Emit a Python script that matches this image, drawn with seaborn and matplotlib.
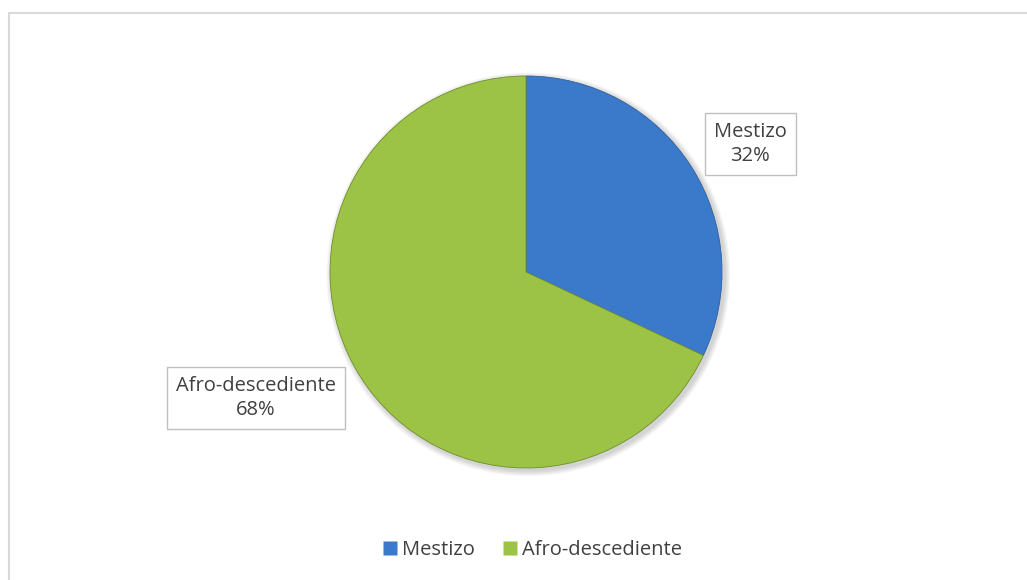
import matplotlib
matplotlib.use('Agg')
import matplotlib.pyplot as plt
import seaborn as sns
from matplotlib.patches import Rectangle, Circle

# Data
groups = ['Mestizo', 'Afro-descediente']
shares = [32, 68]
colors = ['#3b7acb', '#9cc246']

sns.set_theme(style='white')
plt.rcParams['font.family'] = ['Open Sans', 'DejaVu Sans']

W, H = 1027, 580
fig = plt.figure(figsize=(W / 100, H / 100), dpi=100)

# light gray chart border (runs off the right and bottom edges)
fig.patches.append(Rectangle((8.5 / W, -0.1), 1.2, 1.1 - 13.5 / H, transform=fig.transFigure,
                             fill=False, edgecolor='#d9d9d9', linewidth=1.5))

cx, cy, r = 526, 272, 196
ax = fig.add_axes([(cx - r) / W, (H - cy - r) / H, 2 * r / W, 2 * r / H])

# soft shadow behind the pie
for k in range(1, 6):
    ax.add_patch(Circle((0.012, -0.012), 1 + k * 0.006, facecolor='black',
                        alpha=0.035, edgecolor='none', zorder=0, clip_on=False))

wedges, _ = ax.pie(shares, colors=colors, startangle=90, counterclock=False,
                   wedgeprops=dict(edgecolor='#2f5f9a', linewidth=0.6))
wedges[1].set_edgecolor('#6f8f2c')
for w in wedges:
    w.set_zorder(2)
    w.set_clip_on(False)
ax.set_xlim(-1, 1)
ax.set_ylim(-1, 1)
ax.set_aspect('equal')
ax.axis('off')

# data labels in boxes
label_pos = [(750, 144), (256, 398)]
for name, val, (lx, ly) in zip(groups, shares, label_pos):
    fig.text(lx / W, 1 - ly / H, f'{name}\n{val}%', ha='center', va='center',
             fontsize=14.5, color='#404040', linespacing=1.3,
             bbox=dict(boxstyle='square,pad=0.45', facecolor='white',
                       edgecolor='#bfbfbf', linewidth=1))

handles = [plt.Line2D([], [], marker='s', linestyle='', markersize=9.5,
                      markerfacecolor=c, markeredgecolor='none') for c in colors]
fig.legend(handles, groups, loc='center', bbox_to_anchor=(531 / W, 1 - 550 / H),
           ncol=2, frameon=False, fontsize=14.5, handletextpad=0.1,
           handlelength=1.0, columnspacing=1.2, labelcolor='#404040')

fig.savefig('out.png', dpi=100, facecolor='white')
